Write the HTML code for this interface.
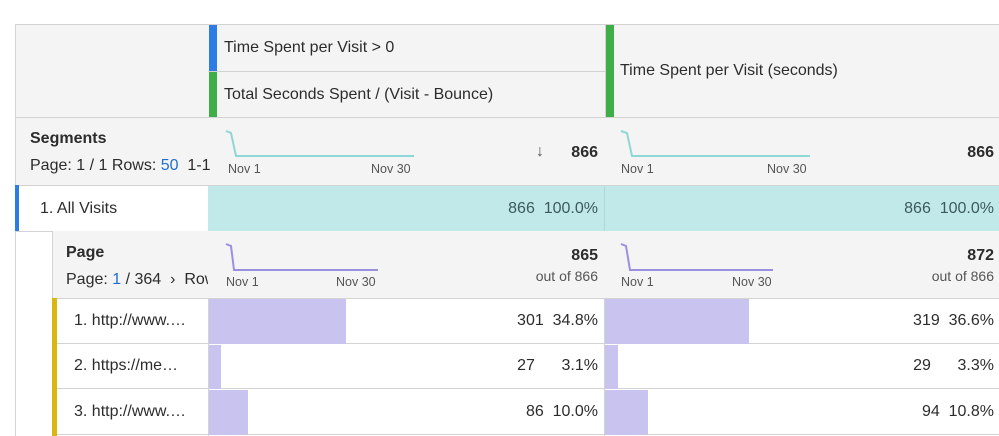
<!DOCTYPE html><html><head><style>
body{margin:0;width:999px;height:436px;background:#fff;position:relative;overflow:hidden;font-family:"Liberation Sans",sans-serif;color:#2c2c2c}
div{position:absolute;box-sizing:border-box}
.t{white-space:nowrap;font-size:16px}
.s{font-size:12.5px;color:#555}
.b{font-weight:bold}
.r{text-align:right}
.h{background:#c2e9ea}
.p{background:#c9c4ef}
</style></head><body>
<div style="left:15px;top:24px;width:984px;height:94px;background:#f4f4f4;border:1px solid #d3d3d3;border-right:none"></div>
<div style="left:208px;top:71px;width:397px;height:1px;background:#d3d3d3"></div>
<div style="left:605px;top:24px;width:1px;height:94px;background:#d3d3d3"></div>
<div style="left:209px;top:25px;width:8px;height:46px;background:#2d7be5"></div>
<div style="left:209px;top:72px;width:8px;height:46px;background:#3fae49"></div>
<div style="left:606px;top:25px;width:8px;height:93px;background:#3fae49"></div>
<div class="t" style="left:224px;top:39px">Time Spent per Visit &gt; 0</div>
<div class="t" style="left:224px;top:86px">Total Seconds Spent / (Visit - Bounce)</div>
<div class="t" style="left:620px;top:62px">Time Spent per Visit (seconds)</div>
<!-- segments row -->
<div style="left:15px;top:117px;width:984px;height:69px;background:#f4f4f4;border:1px solid #d3d3d3;border-right:none"></div>
<div class="t b" style="left:30px;top:130px">Segments</div>
<div class="t" style="left:30px;top:157px">Page: 1 / 1 Rows: <span style="color:#1f6fd0">50</span>&nbsp; 1-1</div>
<div class="s" style="left:228px;top:162px">Nov 1</div><div class="s" style="left:371px;top:162px">Nov 30</div>
<div class="s" style="left:621px;top:162px">Nov 1</div><div class="s" style="left:767px;top:162px">Nov 30</div>
<div class="t b r" style="left:500px;top:144px;width:98px">866</div>
<div class="t b" style="left:536px;top:143px;color:#555">↓</div>
<div class="t b r" style="left:895px;top:144px;width:99px">866</div>
<!-- all visits -->
<div style="left:15px;top:185px;width:984px;height:47px;border-bottom:1px solid #d3d3d3"></div>
<div style="left:15px;top:185px;width:4px;height:46px;background:#2d7be5"></div>
<div class="h" style="left:208px;top:186px;width:791px;height:45px"></div>
<div style="left:604px;top:186px;width:1px;height:45px;background:#b0d6d6"></div>
<div class="t" style="left:40px;top:200px">1. All Visits</div>
<div class="t r" style="left:450px;top:200px;width:148px;color:#3b5b5b">866&nbsp; 100.0%</div>
<div class="t r" style="left:845px;top:200px;width:149px;color:#3b5b5b">866&nbsp; 100.0%</div>
<div style="left:15px;top:231px;width:1px;height:205px;background:#d3d3d3"></div>
<!-- page header -->
<div style="left:52px;top:231px;width:947px;height:68px;background:#f4f4f4;border-left:1px solid #d3d3d3;border-bottom:1px solid #d3d3d3"></div>
<div class="t b" style="left:66px;top:244px">Page</div>
<div class="t" style="left:66px;top:271px;width:142px;overflow:hidden">Page: <span style="color:#1f6fd0">1</span> / 364 &nbsp;›&nbsp; Rows</div>
<div class="s" style="left:226px;top:275px">Nov 1</div><div class="s" style="left:336px;top:275px">Nov 30</div>
<div class="s" style="left:621px;top:275px">Nov 1</div><div class="s" style="left:732px;top:275px">Nov 30</div>
<div class="t b r" style="left:500px;top:247px;width:98px">865</div>
<div class="s r" style="left:480px;top:268px;width:118px;font-size:14px">out of 866</div>
<div class="t b r" style="left:895px;top:247px;width:99px">872</div>
<div class="s r" style="left:875px;top:268px;width:119px;font-size:14px">out of 866</div>
<!-- rows -->
<div style="left:52px;top:298px;width:947px;height:46px;border-bottom:1px solid #d3d3d3"></div>
<div style="left:52px;top:344px;width:947px;height:45px;border-bottom:1px solid #d3d3d3"></div>
<div style="left:52px;top:389px;width:947px;height:46px;border-bottom:1px solid #d3d3d3"></div>
<div style="left:52px;top:298px;width:5px;height:138px;background:#d9b70f"></div>
<div class="p" style="left:208px;top:299px;width:138px;height:45px"></div>
<div class="p" style="left:605px;top:299px;width:144px;height:45px"></div>
<div class="p" style="left:208px;top:345px;width:13px;height:44px"></div>
<div class="p" style="left:605px;top:345px;width:13px;height:44px"></div>
<div class="p" style="left:208px;top:390px;width:40px;height:45px"></div>
<div class="p" style="left:605px;top:390px;width:43px;height:45px"></div>
<div class="t" style="left:74px;top:312px">1. http://www.…</div>
<div class="t" style="left:74px;top:357px">2. https://me…</div>
<div class="t" style="left:74px;top:403px">3. http://www.…</div>
<div class="t r" style="left:450px;top:312px;width:148px">301&nbsp; 34.8%</div>
<div class="t r" style="left:845px;top:312px;width:149px">319&nbsp; 36.6%</div>
<div class="t r" style="left:450px;top:357px;width:148px">27&nbsp;&nbsp;&nbsp;&nbsp;&nbsp; 3.1%</div>
<div class="t r" style="left:845px;top:357px;width:149px">29&nbsp;&nbsp;&nbsp;&nbsp;&nbsp; 3.3%</div>
<div class="t r" style="left:450px;top:403px;width:148px">86&nbsp; 10.0%</div>
<div class="t r" style="left:845px;top:403px;width:149px">94&nbsp; 10.8%</div>
<div style="left:208px;top:298px;width:1px;height:138px;background:#d3d3d3"></div>
<div style="left:604px;top:298px;width:1px;height:138px;background:#d3d3d3"></div>
<svg style="position:absolute;left:0;top:0" width="999" height="436">
<polyline points="226,131 231,133 236,156 414,156" fill="none" stroke="#8fd6d6" stroke-width="2"/>
<polyline points="621,131 627,133 632,156 810,156" fill="none" stroke="#8fd6d6" stroke-width="2"/>
<polyline points="226,244 231,246 234,270 378,270" fill="none" stroke="#9a90e0" stroke-width="2"/>
<polyline points="621,244 626,246 630,270 773,270" fill="none" stroke="#9a90e0" stroke-width="2"/>
</svg>
</body></html>
